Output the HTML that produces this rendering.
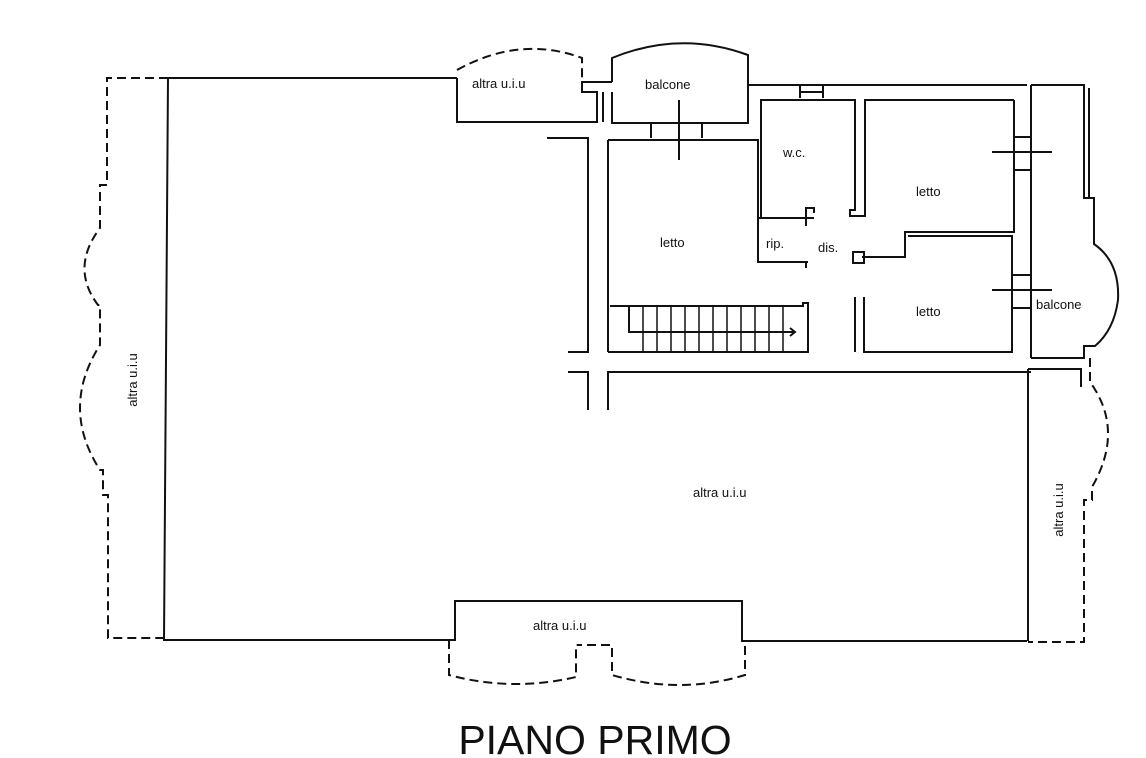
<!DOCTYPE html>
<html><head><meta charset="utf-8"><style>
html,body{margin:0;padding:0;background:#fff}
svg{display:block}
text{font-family:"Liberation Sans",sans-serif;fill:#111}
</style></head><body>
<svg width="1146" height="758" viewBox="0 0 1146 758" xmlns="http://www.w3.org/2000/svg">
<g fill="none" stroke="#111" stroke-width="2">
<path d="M168 78 L457 78 M168 78 L164 640 L455 640 L455 601 L742 601 L742 641 L1027 641"/>
<path d="M457 78 L457 122 L597 122 L597 92 L582 92 L582 82 L612 82"/>
<path d="M603 92 L603 122 M612 82 L612 58 Q680 30 748 55 L748 123 L612 123 L612 92"/>
<path d="M748 85 L1027 85"/>
<path d="M651 123 L651 138 M702 123 L702 138 M679 100 L679 160"/>
<path d="M547 138 L588 138 L588 352 L568 352 M608 140 L608 352 M568 372 L588 372 L588 410 M608 410 L608 372 L1031 372"/>
<path d="M608 140 L758 140 L758 262 L808 262 M758 218 L814 218"/>
<path d="M610 306 L803 306 L803 303 L808 303 L808 352 L608 352"/>
<path d="M629 306 L629 332 L795 332 M790 328 L795 332 L790 336"/>
<g stroke-width="1.5">
<path d="M643 306V352M657 306V352M671 306V352M685 306V352M699 306V352M713 306V352M727 306V352M741 306V352M755 306V352M769 306V352M783 306V352"/>
</g>
<path d="M761 218 L761 100 L855 100 L855 210 L850 210 L850 216 L865 216 L865 100 L1014 100"/>
<path d="M800 85 L800 98 M823 85 L823 98 M800 92 L823 92"/>
<path d="M806 218 L806 208 L814 208 L814 213 M806 262 L806 268 M806 218 L806 226"/>
<path d="M1014 100 L1014 232 L905 232 L905 257 L862 257 M853 252 L864 252 L864 263 L853 263 Z"/>
<path d="M864 297 L864 352 L1012 352 L1012 236 L908 236"/>
<path d="M855 297 L855 352"/>
<path d="M1014 100 L1014 140 M1031 85 L1031 358 M1014 137 L1031 137 M1014 170 L1031 170 M1012 275 L1031 275 M1012 308 L1031 308"/>
<path d="M992 152 L1052 152 M992 290 L1052 290"/>
<path d="M1031 85 L1084 85 L1084 198 L1094 198 L1094 244 Q1120 262 1118 300 Q1114 330 1095 346 L1084 346 L1084 358 L1031 358"/>
<path d="M1089 88 L1089 198"/>
<path d="M1028 369 L1028 641 M1028 369 L1081 369 L1081 387"/>
</g>
<g fill="none" stroke="#111" stroke-width="2" stroke-dasharray="9,5">
<path d="M168 78 L107 78 L107 185 L100 185 L100 228 Q70 268 98 305 L100 305 L100 345 Q60 408 100 470 L103 470 L103 495 L108 495 L108 638 L164 638"/>
<path d="M457 70 Q520 35 582 58 L582 82"/>
<path d="M449 640 L449 675 Q512 692 576 677 L576 645 L582 645 M587 645 L612 645 L612 662 L612 675 Q680 695 745 675 L745 641"/>
<path d="M1090 358 L1090 382 Q1125 430 1092 487 L1092 500 L1084 500 L1084 642 L1028 642"/>
</g>
<g font-size="13">
<text x="472" y="88">altra u.i.u</text>
<text x="645" y="89">balcone</text>
<text x="783" y="157">w.c.</text>
<text x="916" y="196">letto</text>
<text x="660" y="247">letto</text>
<text x="766" y="248">rip.</text>
<text x="818" y="252">dis.</text>
<text x="916" y="316">letto</text>
<text x="1036" y="309">balcone</text>
<text x="693" y="497">altra u.i.u</text>
<text x="533" y="630">altra u.i.u</text>
<text transform="translate(137 380) rotate(-90)" text-anchor="middle">altra u.i.u</text>
<text transform="translate(1063 510) rotate(-90)" text-anchor="middle">altra u.i.u</text>
</g>
<text x="595" y="754" font-size="41" text-anchor="middle">PIANO PRIMO</text>
</svg>
</body></html>
